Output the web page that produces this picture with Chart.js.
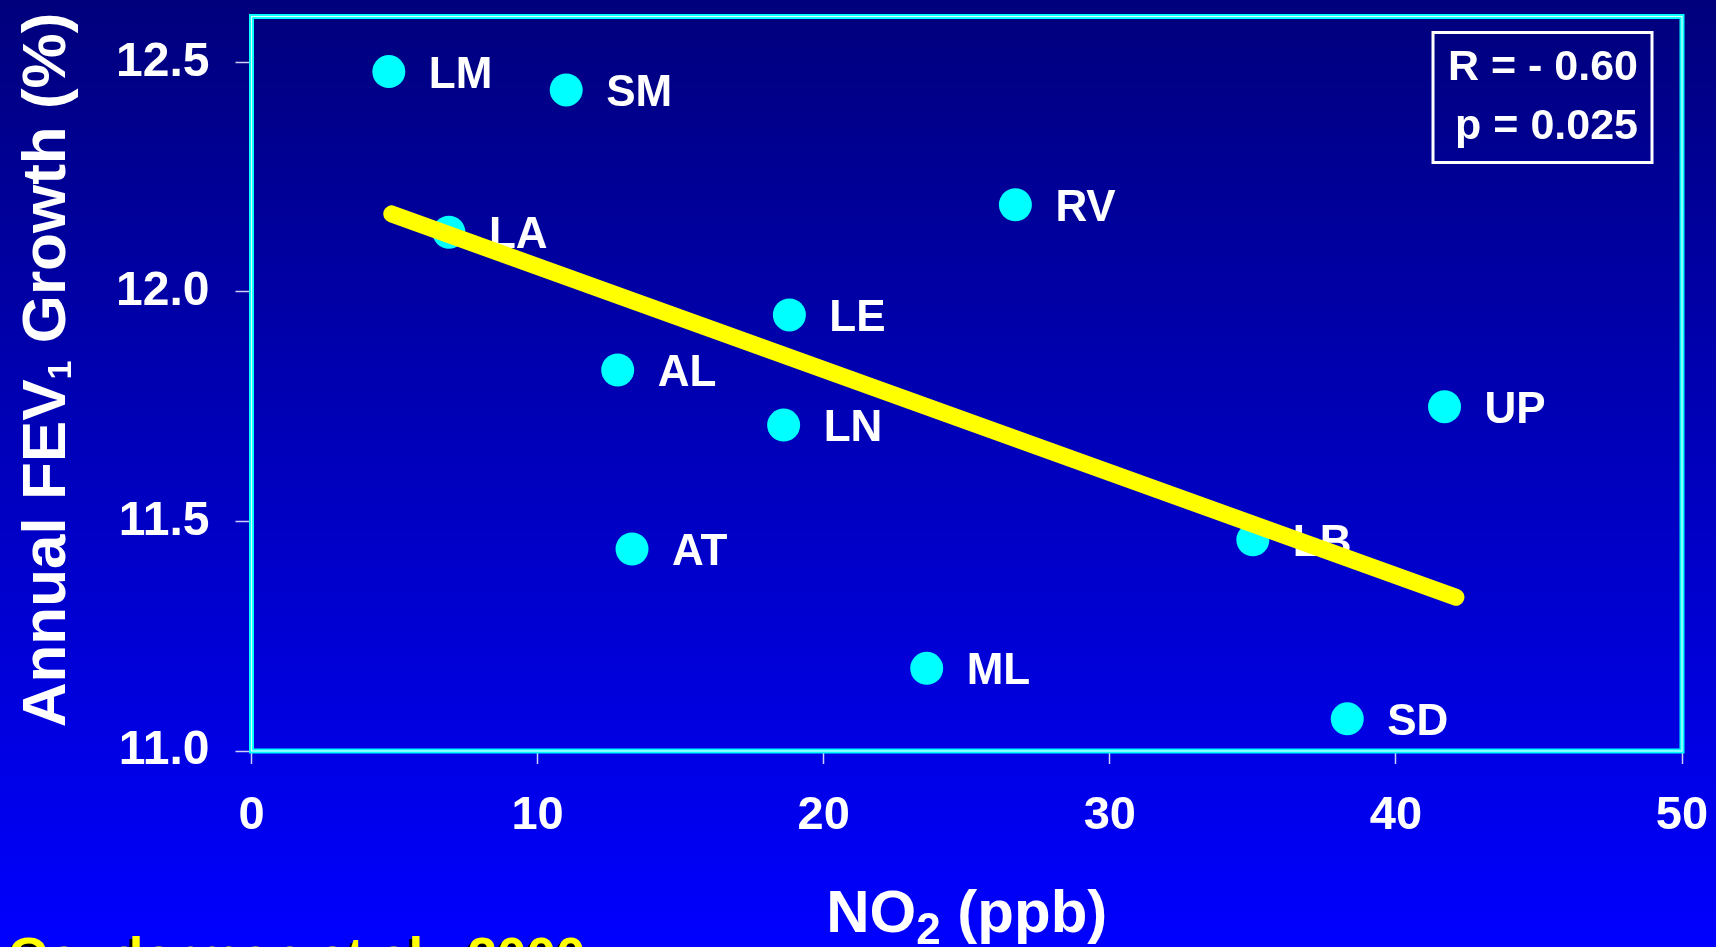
<!DOCTYPE html>
<html>
<head>
<meta charset="utf-8">
<script src="https://cdn.jsdelivr.net/npm/chart.js@4.4.1/dist/chart.umd.min.js"></script>
<style>
  html, body { margin: 0; padding: 0; background: #0000c0; overflow: hidden; }
  #c { display: block; }
</style>
</head>
<body>
<canvas id="c" width="1716" height="947"></canvas>
<script>
// Community codes with mean NO2 level and annual FEV1 growth
const communities = ['LM', 'SM', 'LA', 'RV', 'LE', 'AL', 'LN', 'UP', 'AT', 'LB', 'ML', 'SD'];
const no2Ppb      = [4.8, 11.0, 6.9, 26.7, 18.8, 12.8, 18.6, 41.7, 13.3, 35.0, 23.6, 38.3];
const fevGrowth   = [12.48, 12.44, 12.13, 12.19, 11.95, 11.83, 11.71, 11.75, 11.44, 11.46, 11.18, 11.07];

// Fitted regression line end points
const trendNo2 = [4.9, 42.1];
const trendFev = [12.17, 11.335];

// Axis ticks
const xTicks = [0, 10, 20, 30, 40, 50];
const yTicks = [11.0, 11.5, 12.0, 12.5];

// Annotations
const statsLines = ['R = - 0.60', 'p = 0.025'];
const citation = 'Gauderman et al., 2000';

const FONT = "'Liberation Sans', Arial, Helvetica, sans-serif";

const backgroundPlugin = {
  id: 'slideBackground',
  beforeDraw(chart) {
    const { ctx, width, height } = chart;
    const g = ctx.createLinearGradient(0, 0, 0, height);
    g.addColorStop(0, '#00007c');
    g.addColorStop(1, '#0000ff');
    ctx.save();
    ctx.fillStyle = g;
    ctx.fillRect(0, 0, width, height);
    ctx.restore();
  }
};

const framePlugin = {
  id: 'plotFrame',
  beforeDatasetsDraw(chart) {
    const { ctx, chartArea: a } = chart;
    ctx.save();
    ctx.strokeStyle = '#00ffff';
    ctx.lineWidth = 5;
    ctx.strokeRect(a.left, a.top, a.right - a.left, a.bottom - a.top);
    ctx.strokeStyle = 'rgba(255,255,255,0.85)';
    ctx.lineWidth = 1.2;
    ctx.strokeRect(a.left, a.top, a.right - a.left, a.bottom - a.top);
    ctx.restore();
  }
};

// Community names beside each point, drawn before the regression line
const pointLabelPlugin = {
  id: 'pointLabels',
  afterDatasetDraw(chart, args) {
    if (args.index !== 0) return;
    const { ctx } = chart;
    const meta = chart.getDatasetMeta(0);
    ctx.save();
    ctx.fillStyle = '#ffffff';
    ctx.font = 'bold 44px ' + FONT;
    ctx.textAlign = 'left';
    ctx.textBaseline = 'alphabetic';
    meta.data.forEach((el, i) => {
      ctx.fillText(communities[i], el.x + 40, el.y + 16);
    });
    ctx.restore();
  }
};

function drawParts(ctx, parts, cx, baseline) {
  let total = 0;
  parts.forEach(p => { ctx.font = 'bold ' + p.size + 'px ' + FONT; p.w = ctx.measureText(p.t).width; total += p.w; });
  let x = cx - total / 2;
  ctx.textAlign = 'left';
  ctx.textBaseline = 'alphabetic';
  parts.forEach(p => {
    ctx.font = 'bold ' + p.size + 'px ' + FONT;
    ctx.fillText(p.t, x, baseline + p.dy);
    x += p.w;
  });
}

const annotationPlugin = {
  id: 'annotations',
  afterDraw(chart) {
    const { ctx, chartArea: a } = chart;
    ctx.save();
    ctx.fillStyle = '#ffffff';

    // x-axis title: NO2 (ppb)
    drawParts(ctx, [
      { t: 'NO', size: 60, dy: 0 },
      { t: '2', size: 44, dy: 12 },
      { t: ' (ppb)', size: 60, dy: 0 }
    ], (a.left + a.right) / 2, 932);

    // y-axis title: Annual FEV1 Growth (%)
    ctx.save();
    ctx.translate(65, 370);
    ctx.rotate(-Math.PI / 2);
    drawParts(ctx, [
      { t: 'Annual FEV', size: 62, dy: 0 },
      { t: '1', size: 34, dy: 6 },
      { t: ' Growth (%)', size: 62, dy: 0 }
    ], 0, 0);
    ctx.restore();

    // correlation box
    const bx = a.right - 249, by = a.top + 16, bw = 219, bh = 130;
    ctx.strokeStyle = '#ffffff';
    ctx.lineWidth = 3;
    ctx.strokeRect(bx, by, bw, bh);
    ctx.font = 'bold 43px ' + FONT;
    ctx.textAlign = 'right';
    ctx.textBaseline = 'alphabetic';
    ctx.fillText(statsLines[0], bx + bw - 14, by + 47);
    ctx.fillText(statsLines[1], bx + bw - 14, by + 106);

    // citation
    ctx.font = 'bold 53px ' + FONT;
    ctx.textAlign = 'left';
    ctx.shadowColor = '#000000';
    ctx.shadowOffsetX = -3;
    ctx.shadowOffsetY = 3;
    ctx.shadowBlur = 0;
    ctx.fillStyle = '#ffff00';
    ctx.fillText(citation, 8, 975);
    ctx.restore();
  }
};

new Chart(document.getElementById('c'), {
  data: {
    datasets: [
      {
        type: 'scatter',
        label: 'Communities',
        data: no2Ppb.map((x, i) => ({ x, y: fevGrowth[i] })),
        backgroundColor: '#00ffff',
        borderWidth: 0,
        pointRadius: 16.5,
        pointHoverRadius: 16.5,
        order: 2
      },
      {
        type: 'line',
        label: 'Regression',
        data: trendNo2.map((x, i) => ({ x, y: trendFev[i] })),
        borderColor: '#ffff00',
        borderWidth: 17,
        borderCapStyle: 'round',
        pointRadius: 0,
        fill: false,
        order: 1
      }
    ]
  },
  options: {
    responsive: false,
    animation: false,
    devicePixelRatio: 1,
    layout: { padding: { left: 0, top: 16, right: 34, bottom: 0 } },
    plugins: { legend: { display: false }, tooltip: { enabled: false } },
    scales: {
      x: {
        type: 'linear',
        min: 0,
        max: 50,
        afterBuildTicks(scale) { scale.ticks = xTicks.map(v => ({ value: v })); },
        afterFit(scale) { scale.height = 196; scale.paddingLeft = 0; scale.paddingRight = 0; },
        border: { display: false },
        grid: { drawOnChartArea: false, drawTicks: true, tickLength: 13, tickColor: 'rgba(230,230,255,0.9)', tickWidth: 1.5 },
        ticks: { color: '#ffffff', padding: 24, maxRotation: 0, font: { family: FONT, size: 47, weight: 'bold' } }
      },
      y: {
        type: 'linear',
        min: 11.0,
        max: 12.6,
        afterBuildTicks(scale) { scale.ticks = yTicks.map(v => ({ value: v })); },
        afterFit(scale) { scale.width = 251.5; scale.paddingTop = 0; scale.paddingBottom = 0; },
        border: { display: false },
        grid: { drawOnChartArea: false, drawTicks: true, tickLength: 16, tickColor: 'rgba(230,230,255,0.9)', tickWidth: 1.5 },
        ticks: {
          color: '#ffffff', padding: 26,
          font: { family: FONT, size: 48, weight: 'bold' },
          callback: v => v.toFixed(1)
        }
      }
    }
  },
  plugins: [backgroundPlugin, framePlugin, pointLabelPlugin, annotationPlugin]
});
</script>
</body>
</html>
